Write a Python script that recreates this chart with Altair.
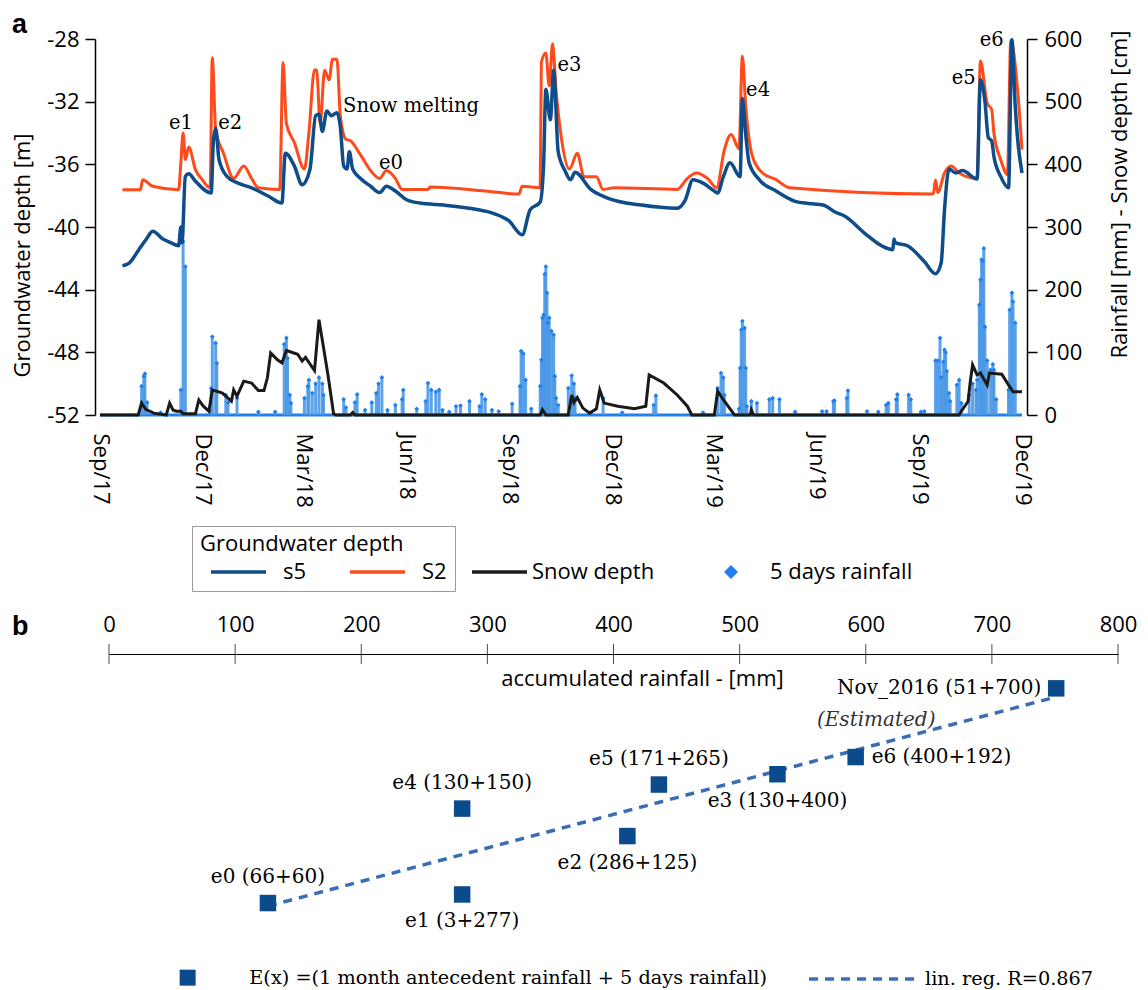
import altair as alt
import pandas as pd

# ---------------- panel a : data ----------------
S5 = [("2017-09-21", -42.47), ("2017-09-27", -42.3), ("2017-10-06", -41.4), ("2017-10-12", -40.8),
      ("2017-10-18", -40.27), ("2017-10-27", -40.77), ("2017-11-03", -41.0), ("2017-11-10", -41.2),
      ("2017-11-12", -40.0), ("2017-11-13", -41.0), ("2017-11-16", -36.77), ("2017-11-19", -36.6),
      ("2017-11-25", -37.08), ("2017-12-09", -37.83), ("2017-12-11", -34.5), ("2017-12-13", -33.7),
      ("2017-12-16", -35.7), ("2017-12-23", -36.77), ("2018-01-02", -37.2), ("2018-01-14", -37.5),
      ("2018-01-29", -38.04), ("2018-02-10", -38.47), ("2018-02-13", -35.3), ("2018-02-21", -36.1),
      ("2018-02-28", -37.3), ("2018-03-07", -36.3), ("2018-03-12", -32.9), ("2018-03-15", -32.8),
      ("2018-03-18", -33.9), ("2018-03-22", -32.6), ("2018-03-26", -32.9), ("2018-03-31", -32.7),
      ("2018-04-03", -33.6), ("2018-04-06", -36.1), ("2018-04-09", -36.3), ("2018-04-11", -35.2),
      ("2018-04-14", -36.3), ("2018-04-21", -36.9), ("2018-04-30", -37.4), ("2018-05-08", -37.8),
      ("2018-05-14", -37.4), ("2018-05-22", -37.7), ("2018-06-01", -38.26), ("2018-06-13", -38.47),
      ("2018-07-04", -38.6), ("2018-07-27", -38.8), ("2018-08-16", -39.1), ("2018-08-31", -39.6),
      ("2018-09-12", -40.5), ("2018-09-19", -38.9), ("2018-09-28", -38.4), ("2018-10-01", -36.0),
      ("2018-10-03", -31.2), ("2018-10-07", -33.15), ("2018-10-10", -30.0), ("2018-10-14", -35.2),
      ("2018-10-20", -36.4), ("2018-10-25", -36.98), ("2018-10-29", -36.5), ("2018-11-12", -37.6),
      ("2018-11-27", -38.15), ("2018-12-27", -38.6), ("2019-01-28", -38.8), ("2019-02-04", -38.3),
      ("2019-02-11", -36.98), ("2019-02-20", -37.2), ("2019-03-02", -37.7), ("2019-03-05", -37.83),
      ("2019-03-10", -36.8), ("2019-03-16", -35.9), ("2019-03-25", -36.8), ("2019-03-27", -31.8),
      ("2019-03-30", -34.1), ("2019-04-02", -35.9), ("2019-04-11", -36.98), ("2019-04-26", -37.7),
      ("2019-05-13", -38.36), ("2019-05-25", -38.5), ("2019-06-07", -38.6), ("2019-06-18", -39.06),
      ("2019-06-26", -39.3), ("2019-07-14", -40.4), ("2019-07-29", -41.2), ("2019-08-08", -41.45),
      ("2019-08-09", -40.77), ("2019-08-10", -41.0), ("2019-08-21", -41.2), ("2019-09-05", -42.2),
      ("2019-09-15", -42.98), ("2019-09-20", -42.3), ("2019-09-23", -38.9), ("2019-09-27", -36.3),
      ("2019-10-03", -36.55), ("2019-10-09", -36.4), ("2019-10-22", -36.94), ("2019-10-25", -30.6),
      ("2019-10-29", -31.98), ("2019-11-01", -34.3), ("2019-11-04", -34.5), ("2019-11-06", -35.5),
      ("2019-11-12", -36.77), ("2019-11-19", -37.5), ("2019-11-22", -28.05), ("2019-11-25", -32.3),
      ("2019-11-27", -34.3), ("2019-12-01", -36.55)]

S2 = [("2017-09-21", -37.62), ("2017-10-07", -37.62), ("2017-10-09", -36.98), ("2017-10-18", -37.4),
      ("2017-11-10", -37.62), ("2017-11-12", -35.9), ("2017-11-14", -34.0), ("2017-11-16", -35.7),
      ("2017-11-19", -34.9), ("2017-11-25", -36.34), ("2017-12-01", -36.98), ("2017-12-08", -37.5),
      ("2017-12-10", -29.2), ("2017-12-13", -33.8), ("2017-12-20", -35.3), ("2017-12-29", -36.9),
      ("2018-01-07", -36.1), ("2018-01-14", -36.9), ("2018-01-20", -37.5), ("2018-02-08", -37.6),
      ("2018-02-11", -29.5), ("2018-02-14", -33.4), ("2018-02-21", -34.6), ("2018-03-02", -36.3),
      ("2018-03-06", -34.0), ("2018-03-11", -29.96), ("2018-03-13", -30.0), ("2018-03-16", -33.4),
      ("2018-03-20", -30.0), ("2018-03-24", -30.6), ("2018-03-27", -29.3), ("2018-03-31", -29.3),
      ("2018-04-03", -32.9), ("2018-04-08", -34.4), ("2018-04-12", -34.5), ("2018-04-21", -35.4),
      ("2018-04-30", -36.4), ("2018-05-08", -36.9), ("2018-05-14", -36.4), ("2018-05-22", -36.9),
      ("2018-05-28", -37.6), ("2018-06-20", -37.6), ("2018-06-22", -37.45), ("2018-08-10", -37.7),
      ("2018-09-09", -37.9), ("2018-09-12", -37.4), ("2018-09-28", -37.5), ("2018-09-29", -29.5),
      ("2018-10-03", -28.9), ("2018-10-06", -31.0), ("2018-10-09", -28.3), ("2018-10-12", -31.2),
      ("2018-10-17", -34.4), ("2018-10-24", -36.3), ("2018-10-31", -35.3), ("2018-11-06", -36.8),
      ("2018-11-17", -36.8), ("2018-11-23", -37.6), ("2018-12-03", -37.5), ("2019-01-28", -37.6),
      ("2019-02-06", -36.9), ("2019-02-14", -36.55), ("2019-02-24", -36.9), ("2019-03-04", -37.5),
      ("2019-03-11", -35.06), ("2019-03-17", -34.1), ("2019-03-24", -35.0), ("2019-03-27", -29.1),
      ("2019-03-30", -32.3), ("2019-04-05", -35.5), ("2019-04-14", -36.55), ("2019-04-26", -36.98),
      ("2019-05-08", -37.5), ("2019-09-13", -37.9), ("2019-09-15", -37.0), ("2019-09-17", -37.8),
      ("2019-09-23", -36.55), ("2019-09-29", -36.1), ("2019-10-06", -36.55), ("2019-10-22", -36.9),
      ("2019-10-25", -29.4), ("2019-10-31", -32.1), ("2019-11-04", -32.5), ("2019-11-06", -34.0),
      ("2019-11-12", -35.7), ("2019-11-18", -36.65), ("2019-11-21", -28.1), ("2019-11-27", -31.2),
      ("2019-12-01", -35.06)]

SNOW = [("2017-09-01", 0), ("2017-10-05", 0), ("2017-10-08", 19), ("2017-10-12", 8.5), ("2017-10-19", 3),
        ("2017-10-30", 0), ("2017-11-02", 19), ("2017-11-05", 8), ("2017-11-08", 6), ("2017-11-12", 6),
        ("2017-11-14", 2), ("2017-11-25", 2), ("2017-11-28", 24), ("2017-12-02", 14), ("2017-12-07", 6),
        ("2017-12-10", 40), ("2017-12-19", 35), ("2017-12-27", 22), ("2017-12-29", 40), ("2018-01-01", 30),
        ("2018-01-07", 54), ("2018-01-14", 51), ("2018-01-20", 39), ("2018-01-25", 39), ("2018-01-28", 59),
        ("2018-01-31", 99), ("2018-02-06", 88), ("2018-02-10", 83), ("2018-02-14", 103), ("2018-02-24", 97),
        ("2018-02-28", 86), ("2018-03-03", 92), ("2018-03-11", 71), ("2018-03-15", 152), ("2018-03-23", 64),
        ("2018-03-28", 2), ("2018-03-30", 0), ("2018-04-12", 0), ("2018-04-14", 4), ("2018-04-16", 0),
        ("2018-09-28", 0), ("2018-09-30", 8.5), ("2018-10-03", 0), ("2018-10-23", 0), ("2018-10-26", 32),
        ("2018-10-28", 20), ("2018-10-31", 28), ("2018-11-05", 11), ("2018-11-11", 3), ("2018-11-17", 10),
        ("2018-11-20", 40), ("2018-11-24", 19), ("2018-12-06", 14), ("2018-12-21", 10), ("2018-12-31", 14),
        ("2019-01-03", 64), ("2019-01-16", 51), ("2019-01-28", 32), ("2019-02-06", 14), ("2019-02-10", 0),
        ("2019-03-02", 0), ("2019-03-05", 38), ("2019-03-11", 22), ("2019-03-20", 0), ("2019-04-03", 0),
        ("2019-04-04", 8.5), ("2019-04-06", 0), ("2019-10-06", 0), ("2019-10-08", 6), ("2019-10-14", 22),
        ("2019-10-16", 54), ("2019-10-18", 80), ("2019-10-22", 64), ("2019-10-25", 67), ("2019-10-31", 48),
        ("2019-11-02", 67), ("2019-11-13", 65), ("2019-11-19", 48), ("2019-11-23", 37), ("2019-12-01", 37)]

RAIN = [("2017-10-08", 46), ("2017-10-10", 62), ("2017-10-11", 66), ("2017-10-13", 20), ("2017-10-25", 4),
        ("2017-11-12", 40), ("2017-11-14", 277), ("2017-11-16", 237), ("2017-12-09", 43), ("2017-12-10", 125),
        ("2017-12-13", 115), ("2017-12-14", 83), ("2017-12-22", 32), ("2017-12-24", 20), ("2018-01-01", 27),
        ("2018-01-20", 5), ("2018-02-04", 5), ("2018-02-12", 113), ("2018-02-14", 123), ("2018-02-15", 91),
        ("2018-02-17", 32), ("2018-02-18", 19), ("2018-03-02", 27), ("2018-03-05", 46), ("2018-03-06", 56),
        ("2018-03-09", 35), ("2018-03-12", 50), ("2018-03-15", 60), ("2018-03-18", 50), ("2018-03-19", 32),
        ("2018-04-06", 25), ("2018-04-08", 12), ("2018-04-16", 20), ("2018-04-18", 33), ("2018-04-25", 8),
        ("2018-05-01", 20), ("2018-05-05", 35), ("2018-05-07", 50), ("2018-05-10", 60), ("2018-05-15", 8),
        ("2018-05-22", 16), ("2018-05-28", 25), ("2018-05-29", 40), ("2018-06-10", 10), ("2018-06-18", 22),
        ("2018-06-20", 51), ("2018-06-23", 40), ("2018-06-27", 37), ("2018-06-30", 40), ("2018-07-03", 8),
        ("2018-07-09", 5), ("2018-07-15", 14), ("2018-07-19", 15), ("2018-07-27", 22), ("2018-08-05", 14),
        ("2018-08-07", 33), ("2018-08-10", 25), ("2018-08-16", 8), ("2018-08-22", 6), ("2018-09-03", 18),
        ("2018-09-10", 46), ("2018-09-11", 102), ("2018-09-13", 98), ("2018-09-15", 56), ("2018-09-20", 10),
        ("2018-09-28", 46), ("2018-09-29", 88), ("2018-09-30", 155), ("2018-10-01", 160), ("2018-10-02", 225),
        ("2018-10-03", 237), ("2018-10-04", 195), ("2018-10-05", 147), ("2018-10-06", 155), ("2018-10-08", 134),
        ("2018-10-10", 128), ("2018-10-11", 62), ("2018-10-12", 27), ("2018-10-14", 16), ("2018-10-23", 43),
        ("2018-10-26", 63), ("2018-10-28", 50), ("2018-10-29", 27), ("2018-11-23", 27), ("2018-12-10", 4),
        ("2019-01-07", 16), ("2019-01-09", 31), ("2019-02-20", 4), ("2019-03-05", 43), ("2019-03-08", 67),
        ("2019-03-10", 60), ("2019-03-11", 32), ("2019-03-24", 10), ("2019-03-25", 75), ("2019-03-26", 136),
        ("2019-03-27", 150), ("2019-03-29", 139), ("2019-03-30", 75), ("2019-03-31", 14), ("2019-04-04", 22),
        ("2019-04-09", 19), ("2019-04-20", 25), ("2019-04-23", 27), ("2019-04-29", 25), ("2019-05-13", 5),
        ("2019-06-06", 6), ("2019-06-10", 6), ("2019-06-16", 22), ("2019-06-17", 23), ("2019-06-28", 27),
        ("2019-06-29", 39), ("2019-07-16", 6), ("2019-07-26", 5), ("2019-08-02", 16), ("2019-08-04", 19),
        ("2019-08-11", 25), ("2019-08-12", 33), ("2019-08-22", 32), ("2019-08-24", 25), ("2019-09-02", 5),
        ("2019-09-05", 6), ("2019-09-15", 87), ("2019-09-17", 87), ("2019-09-19", 123), ("2019-09-20", 60),
        ("2019-09-22", 85), ("2019-09-23", 104), ("2019-09-24", 100), ("2019-09-25", 70), ("2019-09-27", 35),
        ("2019-09-28", 22), ("2019-10-04", 48), ("2019-10-06", 56), ("2019-10-08", 19), ("2019-10-15", 32),
        ("2019-10-18", 50), ("2019-10-21", 40), ("2019-10-22", 56), ("2019-10-24", 176), ("2019-10-25", 216),
        ("2019-10-26", 248), ("2019-10-27", 246), ("2019-10-28", 266), ("2019-10-29", 141), ("2019-10-31", 87),
        ("2019-11-03", 72), ("2019-11-05", 81), ("2019-11-06", 72), ("2019-11-08", 25), ("2019-11-19", 40),
        ("2019-11-20", 168), ("2019-11-22", 195), ("2019-11-23", 181), ("2019-11-25", 147)]

DATE_TICKS = ["2017-09-01", "2017-12-01", "2018-03-01", "2018-06-01", "2018-09-01",
              "2018-12-01", "2019-03-01", "2019-06-01", "2019-09-01", "2019-12-01"]
LEFT_TICKS = [-52, -48, -44, -40, -36, -32, -28]
RIGHT_TICKS = [0, 100, 200, 300, 400, 500, 600]

EVENTS_A = [("e1", "2017-11-12", -33.36), ("e2", "2017-12-26", -33.36),
            ("Snow melting", "2018-06-05", -32.28), ("e0", "2018-05-18", -35.9),
            ("e3", "2018-10-24", -29.64), ("e4", "2019-04-10", -31.24),
            ("e5", "2019-10-10", -30.49), ("e6", "2019-11-04", -28.04)]

# ---------------- panel b : data ----------------
B_EVENTS = ["e0", "e1", "e4", "e2", "e5", "e3", "e6", "Nov_2016"]
B_MONTH = [66, 3, 130, 286, 171, 130, 400, 51]
B_FIVE = [60, 277, 150, 125, 265, 400, 192, 700]
B_DEPTH = [-37.5, -37.0, -32.0, -33.6, -30.6, -30.0, -29.0, -25.0]
B_XTICKS = [0, 100, 200, 300, 400, 500, 600, 700, 800]
B_YTICKS = [-40, -37, -34, -31, -28, -25]
ABOVE = ["e0", "e4", "e5"]
BELOW = ["e1", "e2", "e3"]
RIGHT = ["e6"]
LEFT = ["Nov_2016"]
EX_LABEL = "E(x) =(1 month antecedent rainfall + 5 days rainfall)"
REG_LABEL = "lin. reg. R=0.867"

# ---------------- styles ----------------
C_S5, C_S2, C_SNOW = "#0f4c8a", "#ff4a1c", "#1a1a1a"
C_BAR, C_PT = "#4b98e6", "#1f80ee"
C_SQ, C_REG = "#0b4a8b", "#3b6db4"
SANS, SERIF = "Open Sans", "DejaVu Serif"
HYPHEN = "datum.value < 0 ? '-' + abs(datum.value) : '' + datum.value"


def dt(s):
    y, m, d = (int(p) for p in s.split("-"))
    return alt.DateTime(year=y, month=m, date=d)


def frame(rows, cols):
    df = pd.DataFrame(rows, columns=cols)
    df["date"] = pd.to_datetime(df["date"])
    return df


s5_df = frame(S5, ["date", "depth"]); s5_df["series"] = "s5"
s2_df = frame(S2, ["date", "depth"]); s2_df["series"] = "S2"
snow_df = frame(SNOW, ["date", "val"]); snow_df["k"] = "Snow depth"
rain_df = frame(RAIN, ["date", "val"]); rain_df["k"] = "5 days rainfall"
ev_df = frame(EVENTS_A, ["label", "date", "depth"])
base_df = pd.DataFrame({"start": pd.to_datetime([DATE_TICKS[0]]), "end": pd.to_datetime([DATE_TICKS[-1]]), "val": [0]})

W_A, H_A = 918, 376
x_scale = alt.Scale(domain=[dt(DATE_TICKS[0]), dt(DATE_TICKS[-1])], range=[-14, W_A], nice=False)
x_axis = alt.Axis(values=[dt(s) for s in DATE_TICKS], format="%b/%y", labelAngle=90, labelAlign="left",
                  labelBaseline="middle", labelPadding=18, ticks=False, domain=False, title=None,
                  labelFlush=False, labelOverlap=False)


def xa(field):
    return alt.X(field, type="temporal", scale=x_scale, axis=x_axis)


gw_scale = alt.Scale(domain=[-52, -28], nice=False)
gw_axis = alt.Axis(orient="left", values=LEFT_TICKS, offset=14, tickSize=10, labelPadding=6,
                   domainWidth=1.5, tickWidth=1.5, labelExpr=HYPHEN, title="Groundwater depth [m]",
                   titleX=-73, titleY=216, titleAngle=270, titleBaseline="middle", titleAlign="center")
y_gw = alt.Y("depth:Q", scale=gw_scale, axis=gw_axis)

r_scale = alt.Scale(domain=[0, 600], nice=False)
r_axis = alt.Axis(orient="right", values=RIGHT_TICKS, tickSize=10, labelPadding=7, domainWidth=1.5,
                  tickWidth=1.5, title="Rainfall [mm] - Snow depth [cm]", titleX=92, titleY=155,
                  titleAngle=270, titleBaseline="middle", titleAlign="center")
y_r = alt.Y("val:Q", scale=r_scale, axis=r_axis)

gw_color = alt.Color("series:N", scale=alt.Scale(domain=["s5", "S2"], range=[C_S5, C_S2]),
                     legend=alt.Legend(title="Groundwater depth", orient="none", legendX=83, legendY=487,
                                       direction="horizontal", padding=8, strokeColor="#9a9a9a",
                                       fillColor="white", symbolType="M-1,0H4", symbolSize=484,
                                       symbolStrokeWidth=3.5, symbolOffset=9, labelOffset=48,
                                       columnPadding=32, titlePadding=3, titleLimit=500))

snow_stroke = alt.Stroke("k:N", scale=alt.Scale(domain=["Snow depth"], range=[C_SNOW]),
                         legend=alt.Legend(title=None, orient="none", legendX=361, legendY=520, padding=0,
                                           symbolType="M-1,0H4", symbolSize=484, symbolStrokeWidth=3.5,
                                           labelOffset=36))
rain_fill = alt.Fill("k:N", scale=alt.Scale(domain=["5 days rainfall"], range=[C_PT]),
                     legend=alt.Legend(title=None, orient="none", legendX=611, legendY=522, padding=0,
                                       symbolType="diamond", symbolSize=196, labelOffset=28))

rain_base = alt.Chart(base_df).mark_rule(color=C_PT, strokeWidth=3).encode(
    x=xa("start"), x2="end", y=y_r)
rain_bars = alt.Chart(rain_df).mark_bar(size=3, color=C_BAR, opacity=0.9).encode(x=xa("date"), y=y_r)
rain_pts = alt.Chart(rain_df).mark_point(shape="diamond", filled=True, size=22, opacity=1).encode(
    x=xa("date"), y=y_r, fill=rain_fill)
snow_line = alt.Chart(snow_df).mark_line(strokeWidth=3).encode(x=xa("date"), y=y_r, stroke=snow_stroke)

s2_line = alt.Chart(s2_df).mark_line(strokeWidth=3, interpolate="monotone").encode(
    x=xa("date"), y=y_gw, color=gw_color)
s5_line = alt.Chart(s5_df).mark_line(strokeWidth=3.5, interpolate="monotone").encode(
    x=xa("date"), y=y_gw, color=gw_color)
ann = alt.Chart(ev_df).mark_text(font=SERIF, fontSize=19.5, color="black").encode(
    x=xa("date"), y=y_gw, text="label:N")

rain_group = alt.layer(rain_base, rain_bars, rain_pts, snow_line)
gw_group = alt.layer(s2_line, s5_line, ann)

TITLE_STYLE = dict(anchor="start", frame="group", font="Liberation Sans", fontSize=27,
                   fontWeight="bold", baseline="alphabetic", color="black")

top = alt.layer(rain_group, gw_group).resolve_scale(y="independent").properties(
    width=W_A, height=H_A, title=alt.TitleParams("a", dx=-97, dy=44, offset=12, **TITLE_STYLE))

# ---------------- panel b ----------------
bdf = pd.DataFrame({"event": B_EVENTS, "month": B_MONTH, "five": B_FIVE, "depth": B_DEPTH})
bdf["acc"] = bdf["month"] + bdf["five"]
bdf["label"] = bdf["event"] + " (" + bdf["month"].astype(str) + "+" + bdf["five"].astype(str) + ")"
bdf["k"] = EX_LABEL
tick_df = pd.DataFrame({"acc": B_XTICKS})

W_B, H_B = 1009, 292
xb = alt.X("acc:Q", scale=alt.Scale(domain=[0, 800], nice=False),
           axis=alt.Axis(orient="top", values=B_XTICKS, ticks=False, labelPadding=18, domainWidth=1,
                         title="accumulated rainfall - [mm]", titleX=533, titleY=24,
                         titleBaseline="middle", titleAlign="center", labelFlush=False))
yb = alt.Y("depth:Q", scale=alt.Scale(domain=[-40, -23], nice=False, zero=False),
           axis=alt.Axis(values=B_YTICKS, tickSize=9, labelPadding=8, domainWidth=1, tickWidth=1,
                         labelExpr=HYPHEN, title="groundwater depth[m]", titleX=-86, titleY=172,
                         titleAngle=270, titleBaseline="middle", titleAlign="center"))

base_b = alt.Chart(bdf)
reg = base_b.transform_regression("acc", "depth").transform_calculate(
    k=f"'{REG_LABEL}'").mark_line(strokeWidth=3.5, strokeDash=[9, 7]).encode(
    x=xb, y=yb,
    stroke=alt.Stroke("k:N", scale=alt.Scale(domain=[REG_LABEL], range=[C_REG]),
                      legend=alt.Legend(title=None, orient="none", legendX=698, legendY=312, padding=0,
                                        symbolType="M-1,0H8.7", symbolSize=484, symbolStrokeWidth=3.5,
                                        symbolDash=[9, 7], labelOffset=92, labelFont=SERIF,
                                        labelFontSize=19.3)))
squares = base_b.mark_point(shape="square", filled=True, size=272, opacity=1).encode(
    x=xb, y=yb,
    fill=alt.Fill("k:N", scale=alt.Scale(domain=[EX_LABEL], range=[C_SQ]),
                  legend=alt.Legend(title=None, orient="none", legendX=69, legendY=314, padding=0,
                                    symbolType="square", symbolSize=256, labelOffset=52,
                                    labelFont=SERIF, labelFontSize=19.3)))


def labels(names, **kw):
    return base_b.transform_filter(alt.FieldOneOfPredicate(field="event", oneOf=names)).mark_text(
        font=SERIF, fontSize=20, color="black", **kw).encode(x=xb, y=yb, text="label:N")


lab_above = labels(ABOVE, dy=-26)
lab_below = labels(BELOW, dy=27)
lab_right = labels(RIGHT, dx=16, align="left")
lab_left = labels(LEFT, dx=-15, align="right")
estimated = base_b.transform_filter(alt.FieldOneOfPredicate(field="event", oneOf=LEFT)).mark_text(
    font=SERIF, fontSize=20, fontStyle="italic", color="#333333", dx=-180, dy=32).encode(
    x=xb, y=yb, text=alt.value("(Estimated)"))
ticks_b = alt.Chart(tick_df).mark_tick(orient="vertical", size=20, thickness=1, color="black").encode(
    x=xb, y=alt.Y(datum=-23, axis=None))

bottom = alt.layer(reg, squares, lab_above, lab_below, lab_right, lab_left, estimated, ticks_b).properties(
    width=W_B, height=H_B, title=alt.TitleParams("b", dx=-97, dy=49, offset=0, **TITLE_STYLE))

chart = alt.vconcat(top, bottom, spacing=21).resolve_scale(
    color="independent", fill="independent", stroke="independent"
).resolve_legend(
    color="independent", fill="independent", stroke="independent"
).properties(
    padding={"left": 3, "top": 3, "right": 0, "bottom": 0}
).configure_view(stroke=None).configure_axis(
    labelFont=SANS, titleFont=SANS, labelFontSize=22, titleFontSize=22, titleFontWeight="normal",
    labelColor="black", titleColor="black", domainColor="black", tickColor="black", grid=False
).configure_legend(
    labelFont=SANS, titleFont=SANS, labelFontSize=22, titleFontSize=22, titleFontWeight="normal",
    labelColor="black", titleColor="black", labelLimit=800
)

chart.save("out.html", embed_options={"renderer": "svg", "actions": False})
